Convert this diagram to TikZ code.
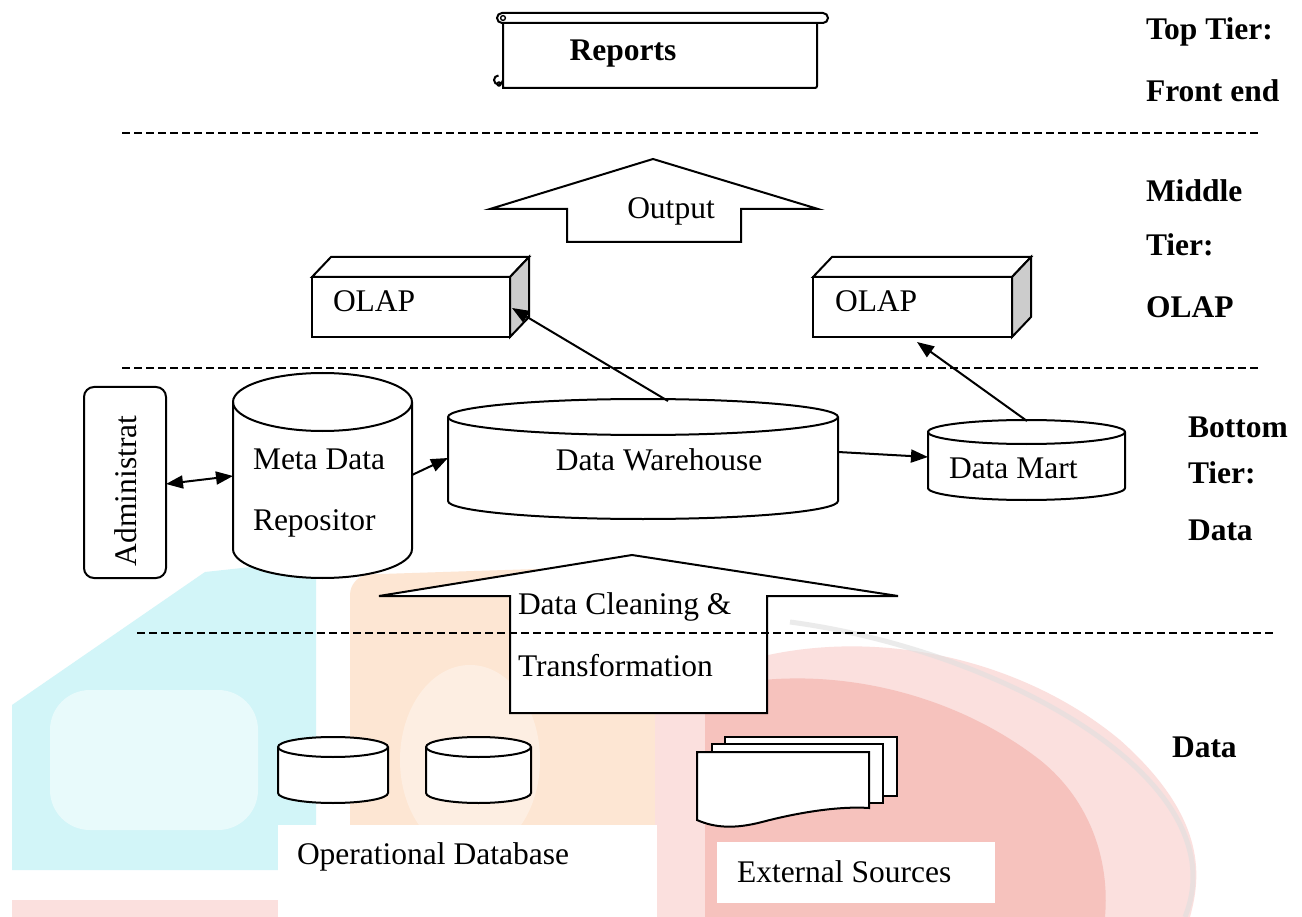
\documentclass[tikz,border=0pt]{standalone}
\usepackage{fontspec}
\setmainfont{Liberation Serif}
\newfontfamily\tnr{Liberation Serif}
\usetikzlibrary{arrows.meta,calc}
\definecolor{wmcyan}{HTML}{D2F5F8}
\definecolor{wmorange}{HTML}{FDE6D3}
\definecolor{wmpink}{HTML}{FBE0DE}
\definecolor{wmred}{HTML}{F6C2BD}
\definecolor{olapside}{HTML}{CCCCCC}
\tikzset{
  txt/.style={font=\tnr\fontsize{31.5}{38}\selectfont, inner sep=0pt, outer sep=0pt},
  btxt/.style={font=\tnr\fontsize{31.5}{38}\selectfont\bfseries, inner sep=0pt, outer sep=0pt},
  ln/.style={line width=2pt, line join=miter},
  tierline/.style={dash pattern=on 8pt off 4pt, line width=1.8pt},
  arr/.style={line width=2pt, -{Triangle[length=17pt,width=13pt]}},
  darr/.style={line width=2pt, {Triangle[length=17pt,width=13pt]}-{Triangle[length=17pt,width=13pt]}},
}
% vertical cylinder: x1, x2, ytop, ybot, ry
\newcommand\vcyl[5]{%
  \filldraw[ln, fill=white] (#1,#3) -- (#1,#4)
    arc[start angle=180, end angle=360, x radius={(#2-#1)/2}, y radius=#5]
    -- (#2,#3)
    arc[start angle=0, end angle=180, x radius={(#2-#1)/2}, y radius=#5] -- cycle;
  \draw[ln] (#1,#3) arc[start angle=180, end angle=360, x radius={(#2-#1)/2}, y radius=#5];
}
% OLAP box: x1, x2, ytop, ybot
\newcommand\olapbox[4]{%
  \filldraw[ln, fill=white] (#1,#3) rectangle (#2,#4);
  \filldraw[ln, fill=white] (#1,#3) -- ($(#1,#3)+(19,20)$) -- ($(#2,#3)+(19,20)$) -- (#2,#3) -- cycle;
  \filldraw[ln, fill=olapside] (#2,#3) -- ($(#2,#3)+(19,20)$) -- ($(#2,#4)+(19,20)$) -- (#2,#4) -- cycle;
}
\begin{document}
\begin{tikzpicture}[x=1pt, y=1pt]
\useasboundingbox (0,0) rectangle (1302,-917);
\fill[white] (0,0) rectangle (1302,-917);

% ---------- watermark ----------
\fill[wmcyan] (12,-870) -- (12,-705) -- (205,-572) -- (316,-560) -- (316,-870) -- cycle;
\fill[white, opacity=0.5, rounded corners=40pt] (50,-690) rectangle (258,-830);
\fill[wmpink] (12,-900) rectangle (278,-917);
\fill[wmorange, rounded corners=20pt] (350,-917) -- (350,-575) -- (660,-565) -- (660,-917);
\fill[white, opacity=0.35] (470,-760) ellipse [x radius=70, y radius=95];
\fill[wmpink] (655,-917) -- (655,-700) .. controls (800,-610) and (1000,-640) .. (1120,-740)
   .. controls (1210,-820) and (1200,-880) .. (1190,-917) -- cycle;
\fill[wmred] (705,-917) -- (705,-690) .. controls (820,-660) and (950,-690) .. (1040,-760)
   .. controls (1090,-800) and (1110,-860) .. (1105,-917) -- cycle;
\draw[gray!25, line width=5pt, opacity=0.6] (790,-622) .. controls (1000,-650) and (1240,-780) .. (1185,-917);

% ---------- top tier: Reports scroll ----------
\filldraw[ln, fill=white] (503,-20) -- (503,-88) -- (815,-88) arc[start angle=270, end angle=360, radius=2] -- (817,-20);
\filldraw[ln, fill=white] (502,-13) -- (823,-13) arc[start angle=90, end angle=-90, radius=5]
   -- (502,-23) arc[start angle=270, end angle=90, radius=5] -- cycle;
\draw[line width=1.4pt] (503,-18) circle (2.4);
\draw[ln] (503,-80) arc[start angle=0, end angle=-270, radius=4.5];
\draw[line width=1.4pt] (499,-84) circle (2);
\node[btxt, anchor=base] (reports) at (623,-61) {Reports};

% ---------- tier labels ----------
\node[btxt, anchor=base west] (toptier) at (1146,-40) {Top Tier:};
\node[btxt, anchor=base west] (frontend) at (1146,-102) {Front end};
\node[btxt, anchor=base west] (middle) at (1146,-202) {Middle};
\node[btxt, anchor=base west] (midtier) at (1146,-256) {Tier:};
\node[btxt, anchor=base west] (midolap) at (1146,-318) {OLAP};
\node[btxt, anchor=base west] (bottom) at (1188,-437) {Bottom};
\node[btxt, anchor=base west] (bottier) at (1188,-483) {Tier:};
\node[btxt, anchor=base west] (botdata) at (1188,-540) {Data};
\node[btxt, anchor=base west] (srcdata) at (1172,-757) {Data};

% ---------- middle tier ----------
\filldraw[ln, fill=white] (653,-159) -- (818,-209) -- (741,-209) -- (741,-242) -- (567,-242)
   -- (567,-209) -- (490,-209) -- cycle;
\node[txt, anchor=base] (output) at (671,-219) {Output};

\olapbox{312}{510}{-277}{-337}
\node[txt, anchor=base west] (olapl) at (333,-312) {OLAP};
\olapbox{813}{1012}{-277}{-337}
\node[txt, anchor=base west] (olapr) at (835,-312) {OLAP};

% ---------- bottom tier ----------
\draw[ln, rounded corners=10pt] (84,-387) rectangle (166,-578);
\node[txt, rotate=90] (admin) at (126,-491) {Administrat};

\vcyl{233}{412}{-402}{-549}{29}
\node[txt, anchor=base west] (meta1) at (253,-469) {Meta Data};
\node[txt, anchor=base west] (meta2) at (253,-530) {Repositor};

\vcyl{448}{838}{-417}{-501}{18}
\node[txt, anchor=base] (dw) at (659,-470) {Data Warehouse};

\vcyl{928}{1125}{-432}{-488}{12}
\node[txt, anchor=base west] (dm) at (949,-478) {Data Mart};

% connector end points
\coordinate (adminR) at (166,-484);
\coordinate (metaL) at (233,-476);
\coordinate (metaR) at (412,-475);
\coordinate (dwL) at (448,-458);
\coordinate (dwR) at (838,-452);
\coordinate (dmL) at (928,-457);
\coordinate (dwTop) at (668,-401);
\coordinate (olaplTip) at (512,-308);
\coordinate (dmTop) at (1027,-421);
\coordinate (olaprTip) at (917,-342);

\draw[darr] (adminR) -- (metaL);
\draw[arr] (metaR) -- (dwL);
\draw[arr] (dwR) -- (dmL);
\draw[arr] (dwTop) -- (olaplTip);
\draw[arr] (dmTop) -- (olaprTip);

% ---------- data cleaning arrow ----------
\filldraw[ln, fill=white] (632,-555) -- (898,-596) -- (767,-596) -- (767,-713) -- (510,-713)
   -- (510,-596) -- (379,-596) -- cycle;
\node[txt, anchor=base west] (clean1) at (518,-614) {Data Cleaning \&};
\node[txt, anchor=base west] (clean2) at (518,-676) {Transformation};

% ---------- data sources ----------
\vcyl{278}{388}{-747}{-793}{10}
\vcyl{426}{531}{-747}{-793}{10}
\fill[white] (278,-825) rectangle (657,-917);
\node[txt, anchor=base west] (opdb) at (297,-864) {Operational Database};

\filldraw[ln, fill=white] (725,-737) rectangle (897,-796);
\filldraw[ln, fill=white] (712,-744) rectangle (883,-803);
\filldraw[ln, fill=white] (697,-752) -- (869,-752) -- (869,-808)
   .. controls (840,-806) and (800,-812) .. (762,-822)
   .. controls (735,-829) and (715,-828) .. (697,-820) -- cycle;
\fill[white] (717,-842) rectangle (995,-903);
\node[txt, anchor=base west] (ext) at (737,-882) {External Sources};

% ---------- tier separators ----------
\draw[tierline] (122,-133) -- (1259,-133);
\draw[tierline] (122,-368) -- (1259,-368);
\draw[tierline] (137,-633) -- (1273,-633);
\end{tikzpicture}
\end{document}
